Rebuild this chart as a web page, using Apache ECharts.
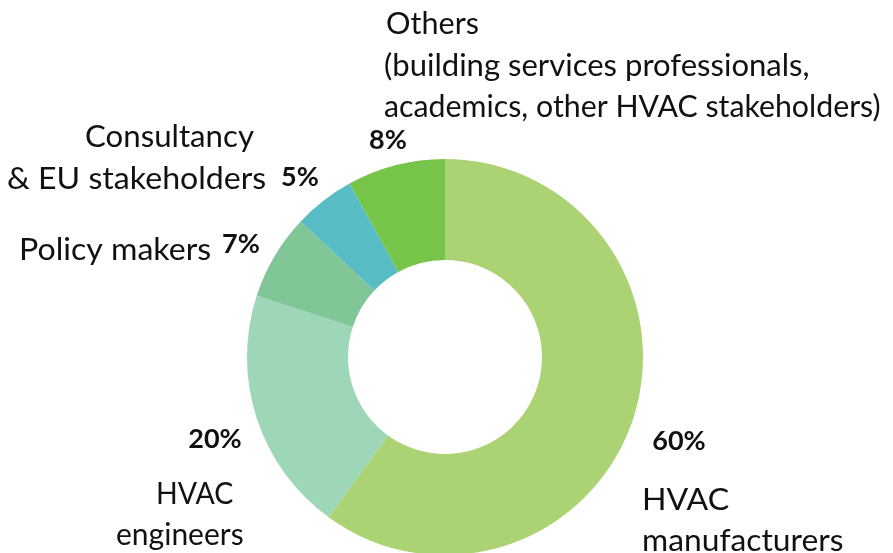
<!DOCTYPE html>
<html>
<head>
<meta charset="utf-8">
<script src="https://cdn.jsdelivr.net/npm/echarts@6/dist/echarts.min.js"></script>
<style>
html,body{margin:0;padding:0;background:#fff;}
#chart{width:893px;height:553px;}
</style>
</head>
<body>
<div id="chart"></div>
<script>
// ---- data ----
var categories = ['HVAC manufacturers', 'HVAC engineers', 'Policy makers', 'Consultancy & EU stakeholders', 'Others'];
var values = [60, 20, 7, 5, 8];
var nameLines = [
  ['HVAC', 'manufacturers'],
  ['HVAC', 'engineers'],
  ['Policy makers'],
  ['Consultancy', '& EU stakeholders'],
  ['Others', '(building services professionals,', 'academics, other HVAC stakeholders)']
];

// ---- styling / layout (kept separate from data) ----
var colors = ['#acd373', '#9dd7b7', '#80c697', '#57bcc4', '#76c44a'];
var pctPos = [[679, 441], [215, 439], [241, 244], [300, 177], [388, 140]];
var linePos = [
  [[642, 498.5], [642, 540]],
  [[156, 492.5], [116, 534]],
  [[19, 249]],
  [[85, 135.5], [7, 178]],
  [[386, 23], [384, 65], [384, 106]]
];
var lineScale = [
  [1.07, 1.06],
  [0.95, 1.0],
  [1.07],
  [1.04, 1.07],
  [1.02, 1.035, 1.01]
];

var chart = echarts.init(document.getElementById('chart'));
var graphics = [];
nameLines.forEach(function (lines, i) {
  lines.forEach(function (t, j) {
    graphics.push({
      type: 'text',
      x: linePos[i][j][0],
      y: linePos[i][j][1] + 1.6,
      scaleX: lineScale[i][j],
      style: {
        text: t,
        fill: '#111',
        font: '30px Lato',
        textAlign: 'left',
        textVerticalAlign: 'middle'
      }
    });
  });
});

chart.setOption({
  animation: false,
  color: colors,
  graphic: graphics,
  series: [{
    type: 'pie',
    center: [445, 357],
    radius: [97, 198],
    startAngle: 90,
    clockwise: true,
    avoidLabelOverlap: false,
    data: categories.map(function (c, i) { return { name: c, value: values[i] }; }),
    itemStyle: { borderWidth: 0 },
    label: {
      show: true,
      position: 'outside',
      formatter: function (p) { return p.value + '%'; },
      fontFamily: 'Lato',
      fontWeight: 'bold',
      fontSize: 27,
      color: '#111'
    },
    labelLine: { show: false },
    labelLayout: function (p) {
      var pos = pctPos[p.dataIndex];
      return { x: pos[0], y: pos[1], align: 'center', verticalAlign: 'middle' };
    },
    emphasis: { disabled: true }
  }]
});
</script>
</body>
</html>
